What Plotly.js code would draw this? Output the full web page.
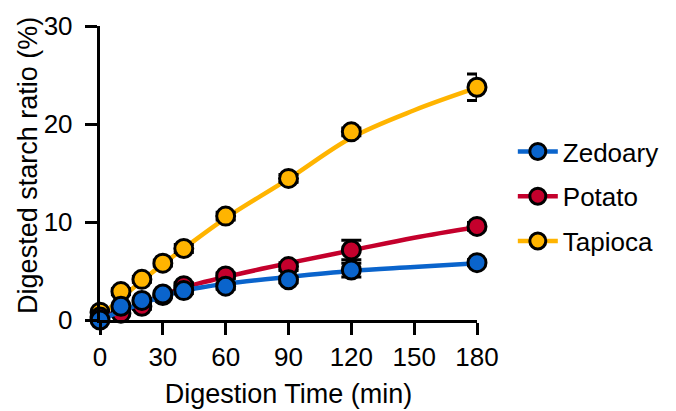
<!DOCTYPE html>
<html>
<head>
<meta charset="utf-8">
<script src="https://cdn.plot.ly/plotly-3.0.1.min.js"></script>
<style>body{margin:0;background:#fff}#chart{width:676px;height:411px}</style>
</head>
<body>
<div id="chart"></div>
<script>
// measured data (mean) and error (SD)
const time = [0, 10, 20, 30, 40, 60, 90, 120, 180];
const zedoary = [0.0, 1.4, 2.0, 2.65, 3.0, 3.45, 4.1, 5.1, 5.85];
const zedoaryErr = [0.1, 0.2, 0.2, 0.2, 0.3, 0.3, 0.3, 0.7, 0.3];
const potato = [0.3, 0.7, 1.4, 2.5, 3.5, 4.5, 5.45, 7.15, 9.55];
const potatoErr = [0.1, 0.2, 0.3, 0.2, 0.3, 0.3, 0.4, 1.0, 0.4];
const tapioca = [0.8, 2.9, 4.15, 5.8, 7.3, 10.6, 14.45, 19.2, 23.75];
const tapiocaErr = [0.1, 0.3, 0.3, 0.3, 0.4, 0.4, 0.4, 0.4, 1.35];
// fitted curves
const fitTime = [0, 10, 20, 30, 40, 60, 90, 120, 150, 180];
const zedoaryFit = [0.0, 0.9, 1.7, 2.4, 3.0, 3.7, 4.4, 5.0, 5.4, 5.8];
const potatoFit = [0.2, 0.9, 1.7, 2.5, 3.3, 4.4, 5.8, 7.1, 8.4, 9.5];
const tapiocaFit = [0.4, 2.2, 4.0, 5.7, 7.3, 10.4, 14.4, 18.6, 21.4, 23.7];
const xTicks = [0, 30, 60, 90, 120, 150, 180];
const yTicks = [0, 10, 20, 30];
const xTitle = 'Digestion Time (min)';
const yTitle = 'Digested starch ratio (%)';

const CLEAR = 'rgba(0,0,0,0)';
function series(name, rank, y, err, fx, fy, color) {
  // fit line; the legend entry uses the first (undrawn) point's marker style
  const n = fx.length;
  const fitTrace = {
    x: [null].concat(fx), y: [null].concat(fy), name: name, legendgroup: name, legendrank: rank,
    type: 'scatter', mode: 'lines+markers', connectgaps: false, hoverinfo: 'skip',
    line: {color: color, width: 4.5, shape: 'spline', smoothing: 1},
    marker: {size: 17,
             color: [color].concat(new Array(n).fill(CLEAR)),
             line: {width: 3, color: ['#000'].concat(new Array(n).fill(CLEAR))}}
  };
  const dataTrace = {
    x: time, y: y, name: name, legendgroup: name, showlegend: false, legendrank: rank,
    type: 'scatter', mode: 'markers', cliponaxis: false,
    marker: {color: color, size: 18, line: {color: '#000', width: 3}},
    error_y: {type: 'data', array: err, visible: true, color: '#000', thickness: 3, width: 10}
  };
  return [fitTrace, dataTrace];
}
const data = [].concat(
  series('Tapioca', 3, tapioca, tapiocaErr, fitTime, tapiocaFit, '#FFB400'),
  series('Potato', 2, potato, potatoErr, fitTime, potatoFit, '#C4002C'),
  series('Zedoary', 1, zedoary, zedoaryErr, fitTime, zedoaryFit, '#0A64CC')
);
const FAM = 'Liberation Sans, Arial, sans-serif';
const layout = {
  width: 676, height: 411,
  margin: {l: 100, r: 197, t: 26, b: 91},
  paper_bgcolor: '#fff', plot_bgcolor: '#fff',
  font: {family: FAM, size: 26, color: '#000'},
  showlegend: true,
  legend: {traceorder: 'grouped', x: 1.095, y: 0.42, xanchor: 'left', yanchor: 'middle',
           font: {family: FAM, size: 26, color: '#000'}, tracegroupgap: 8, itemwidth: 40},
  xaxis: {range: [0, 180], tickvals: xTicks, ticktext: xTicks.map(String),
          showline: true, linecolor: '#000', linewidth: 3, ticks: 'outside', ticklen: 12, tickwidth: 3,
          tickcolor: '#000', showgrid: false, zeroline: false,
          tickfont: {size: 26},
          title: {text: xTitle, font: {size: 27}, standoff: 13}},
  yaxis: {range: [0, 30], tickvals: yTicks, ticktext: yTicks.map(v => v + '\u00a0'),
          showline: true, linecolor: '#000', linewidth: 3, ticks: 'outside', ticklen: 12, tickwidth: 3,
          tickcolor: '#000', showgrid: false, zeroline: false,
          tickfont: {size: 26}},
  annotations: [{text: yTitle, xref: 'paper', yref: 'paper', x: -0.1926, y: 0.5255,
                 xanchor: 'center', yanchor: 'middle', textangle: -90, showarrow: false,
                 font: {family: FAM, size: 27, color: '#000'}}]
};
Plotly.newPlot('chart', data, layout, {displayModeBar: false, staticPlot: true});
</script>
</body>
</html>
